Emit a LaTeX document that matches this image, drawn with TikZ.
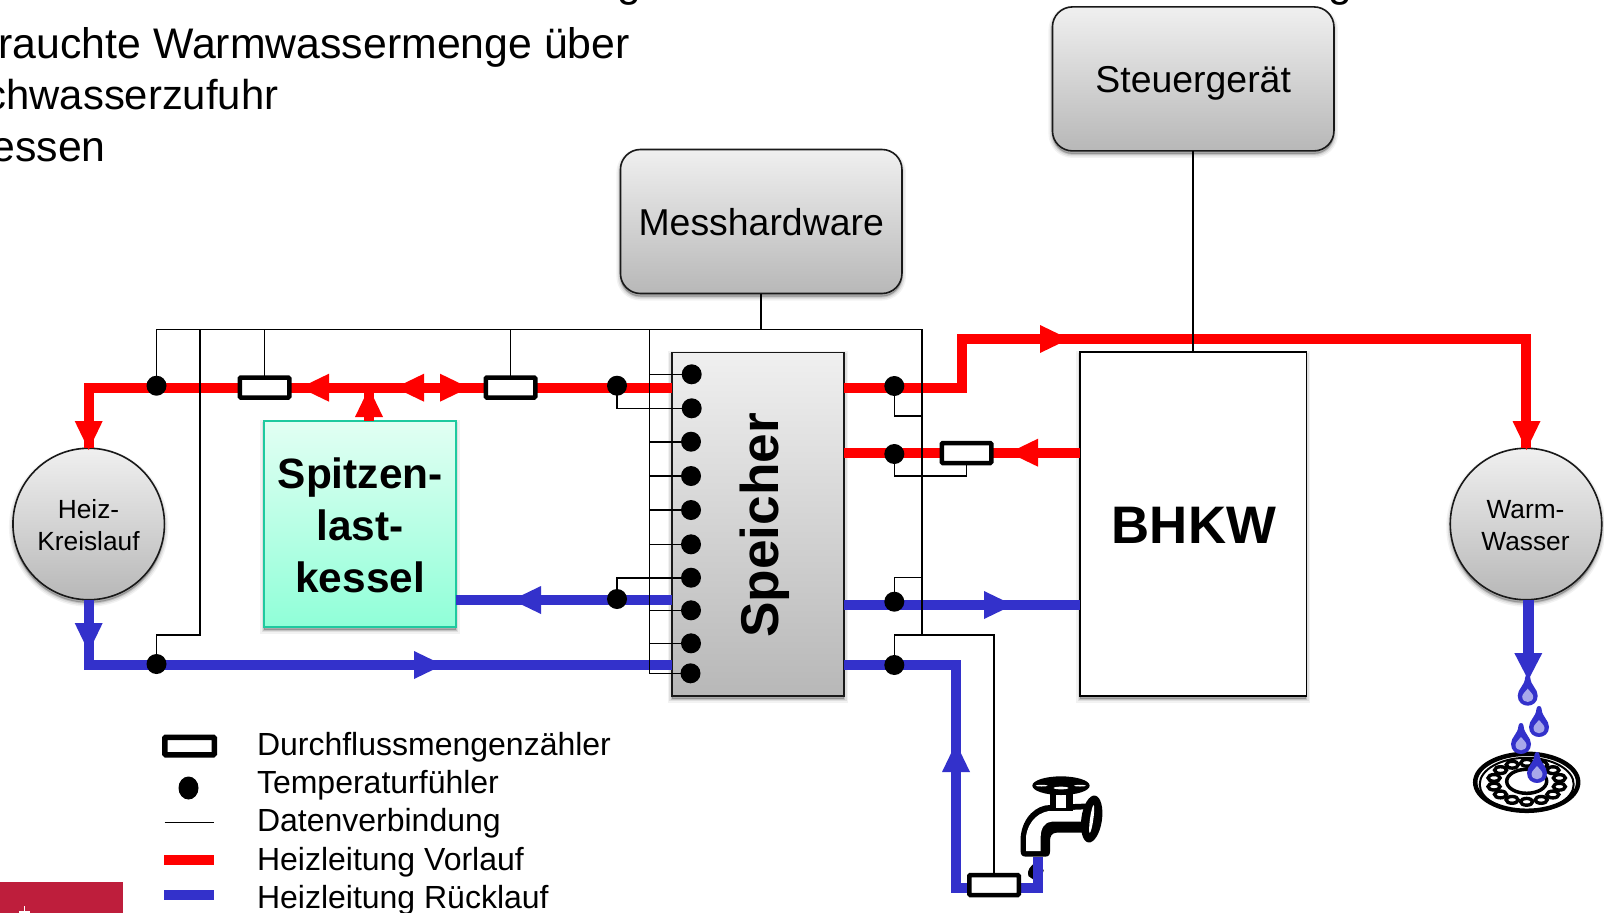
\documentclass[tikz,border=0pt]{standalone}
\usepackage{fontspec}
\usetikzlibrary{shapes.geometric}
\setmainfont{Liberation Sans}
\definecolor{pipered}{HTML}{FF0000}
\definecolor{pipeblue}{HTML}{3331CB}
\definecolor{droplight}{HTML}{A8A8EA}
\definecolor{logored}{HTML}{BE1E3C}
\definecolor{kesselline}{HTML}{1FC99F}
\definecolor{kesseltop}{HTML}{E2FFF3}
\definecolor{kesselbot}{HTML}{90FFD8}
\newcommand{\flowhead}[4]{\fill[#1,shift={(#2,#3)},rotate=#4] (10,0) -- (-19,14) -- (-19,-14) -- cycle;}
\newcommand{\wdrop}[2]{%
  \fill[pipeblue,shift={(#1,#2)}] (-2.6,-18) .. controls (-2.6,-22) and (2.6,-22) .. (2.6,-18) .. controls (3,-10) and (10,-7) .. (10,0) .. controls (10,13.3) and (-10,13.3) .. (-10,0) .. controls (-10,-7) and (-3,-10) .. (-2.6,-18) -- cycle;
  \fill[droplight,shift={(#1,#2)}] (0,-7) .. controls (2,-4) and (5.5,-2) .. (5.5,1) .. controls (5.5,8) and (-5.5,8) .. (-5.5,1) .. controls (-5.5,-2) and (-2,-4) .. (0,-7) -- cycle;}
\tikzset{
  softshadow/.style={
    preaction={draw=black,fill=black,draw opacity=.05,fill opacity=.05,line width=8pt,transform canvas={yshift=-3pt}},
    preaction={draw=black,fill=black,draw opacity=.08,fill opacity=.08,line width=5pt,transform canvas={yshift=-3pt}},
    preaction={draw=black,fill=black,draw opacity=.12,fill opacity=.12,line width=2pt,transform canvas={yshift=-3pt}}},
  greybox/.style={draw=black!90,line width=1.6pt,top color=black!6,bottom color=black!28,softshadow,inner sep=0pt,outer sep=0pt},
  ctrlbox/.style={greybox,rounded corners=20pt,minimum width=281.5pt,minimum height=144pt,text height=35.6pt,text depth=8pt,font=\fontsize{37.4}{44}\selectfont},
  loadcircle/.style={greybox,circle,minimum size=151.5pt,align=center},
  loadtext/.style={align=center,inner sep=0pt,font=\fontsize{26.3}{32}\selectfont},
  redpipe/.style={pipered,line width=10pt},
  bluepipe/.style={pipeblue,line width=10pt},
  dataline/.style={black,line width=1.6pt},
  sensor/.style={circle,fill=black,minimum size=20pt,inner sep=0pt,outer sep=0pt},
  meter/.style={draw=black,fill=white,line width=4.5pt,rounded corners=1pt,minimum width=49.5pt,minimum height=20pt,inner sep=0pt,outer sep=0pt},
  legendtext/.style={anchor=base west,inner sep=0pt,font=\fontsize{32}{38}\selectfont},
  headtext/.style={anchor=base east,inner sep=0pt,font=\fontsize{42.8}{51}\selectfont},
  bigbold/.style={font=\bfseries\fontsize{42.4}{51.7}\selectfont,align=center,inner sep=0pt}
}
\begin{document}
\begin{tikzpicture}[x=1pt,y=-1pt]
\clip (0,0) rectangle (1604,913);
\fill[white] (0,0) rectangle (1604,913);

% clipped text of the slide behind
\node[headtext] (gA) at (641,-4) {g};
\node[headtext] (gB) at (1352,-4) {g};
\node[headtext] (h1) at (630,58.5) {rauchte Warmwassermenge über};
\node[headtext,font=\fontsize{41.8}{51}\selectfont] (h2) at (278.5,109.5) {chwasserzufuhr};
\node[headtext] (h3) at (106,161) {essen};

% logo block
\fill[logored] (0,882) rectangle (123,913);
\draw[white,line width=1.6pt] (24.5,906) -- (24.5,913);
\draw[white,line width=1.6pt] (19,912) -- (30,912);

% boxes
\node[ctrlbox] (steuer) at (1193.2,78.9) {Steuergerät};
\node[ctrlbox] (mess) at (761.2,221.5) {Messhardware};
\node[greybox,minimum width=172.3pt,minimum height=343.4pt] (speicher) at (757.9,524) {};
\node[font=\bfseries\fontsize{53.2}{60}\selectfont,rotate=90,anchor=base,inner sep=0pt] (speicherlabel) at (778,525.5) {Speicher};
\node[draw=black,fill=white,line width=1.8pt,minimum width=226.4pt,minimum height=343.4pt,inner sep=0pt,outer sep=0pt,softshadow] (bhkw) at (1193.2,524) {};
\node[font=\bfseries\fontsize{52.8}{60}\selectfont,inner sep=0pt] (bhkwlabel) at (1193.9,525) {BHKW};
\node[draw=kesselline,line width=1.6pt,top color=kesseltop,bottom color=kesselbot,minimum width=191.7pt,minimum height=205.7pt,inner sep=0pt,outer sep=0pt,softshadow] (kessel) at (359.9,523.9) {};
\node[bigbold] (kessellabel) at (360.2,525.5) {Spitzen-\\last-\\kessel};
\node[loadcircle] (heiz) at (88.7,524) {};
\node[loadtext] (heiztext) at (88.5,525.5) {Heiz-\\Kreislauf};
\node[loadcircle] (warm) at (1526,524) {};
\node[loadtext] (warmtext) at (1525.5,525.5) {Warm-\\Wasser};

% tap
\begin{scope}[shift={(900,720)},scale=1/3]
  \fill[black] (385,468) .. controls (380,450) and (392,440) .. (400,432) -- (405,482) -- cycle;
  \fill[black] (420,452) circle [radius=11];
  \fill[black] (362,395) -- (362,350) .. controls (368,290) and (410,255) .. (450,255) -- (575,250) -- (575,338) -- (470,338) .. controls (455,338) and (450,350) .. (450,362) -- (450,395) .. controls (450,405) and (445,410) .. (435,410) -- (378,410) .. controls (368,410) and (362,405) .. (362,395) -- cycle;
  \fill[white] (378,393) -- (378,350) .. controls (385,300) and (420,272) .. (460,272) -- (555,268) -- (555,305) -- (455,305) .. controls (435,305) and (422,325) .. (422,350) -- (422,393) -- cycle;
  \fill[black] (450,215) rectangle (518,272);
  \fill[white] (468,225) rectangle (498,263);
  \fill[black] (483,197) ellipse [x radius=86,y radius=28];
  \fill[white] (425,197) ellipse [x radius=18,y radius=2.5];
  \fill[white] (540,197) ellipse [x radius=18,y radius=2.5];
  \fill[white] (483,204) ellipse [x radius=22,y radius=4];
  \fill[black,rotate around={-8:(575,297)}] (575,297) ellipse [x radius=31,y radius=71];
  \fill[white,rotate around={-8:(575,297)}] (575,297) ellipse [x radius=5,y radius=42];
\end{scope}

% pipe way points
\coordinate (rA) at (speicher.west |- 0,387.7);
\coordinate (rB) at (heiz.north |- 0,387.7);
\coordinate (rC) at (speicher.east |- 0,387.7);
\coordinate (rD) at (962,387.7);
\coordinate (rE) at (962,339);
\coordinate (rF) at (warm.north |- 0,339);
\coordinate (rG) at (speicher.east |- 0,452.7);
\coordinate (rH) at (bhkw.west |- 0,452.7);
\coordinate (rI) at (369,421);
\coordinate (rJ) at (369,387.7);
\coordinate (bA) at (speicher.west |- 0,665);
\coordinate (bB) at (heiz.south |- 0,665);
\coordinate (bC) at (kessel.east |- 0,600);
\coordinate (bD) at (speicher.west |- 0,600);
\coordinate (bE) at (speicher.east |- 0,605);
\coordinate (bF) at (bhkw.west |- 0,605);
\coordinate (bG) at (speicher.east |- 0,665);
\coordinate (bH) at (956,665);
\coordinate (bI) at (956,888);
\coordinate (bJ) at (1037.7,888);
\coordinate (bK) at (1037.7,857);
\coordinate (wA) at (1528.3,600);
\coordinate (wB) at (1528.3,655);

% pipes
\draw[redpipe] (rA) -- (rB) -- (heiz.north);
\draw[redpipe] (rI) -- (rJ);
\draw[redpipe] (rC) -- (rD) -- (rE) -- (rF) -- (warm.north);
\draw[redpipe] (rH) -- (rG);
\draw[bluepipe] (heiz.south) -- (bB) -- (bA);
\draw[bluepipe] (bC) -- (bD);
\draw[bluepipe] (bE) -- (bF);
\draw[bluepipe] (bG) -- (bH) -- (bI) -- (bJ) -- (bK);
\draw[bluepipe,line width=11pt] (wA) -- (wB);

% arrowheads
\flowhead{pipered}{88.7}{440}{270}
\flowhead{pipered}{310}{387.7}{180}
\flowhead{pipered}{405}{387.7}{180}
\flowhead{pipered}{459}{387.7}{0}
\flowhead{pipered}{369}{398}{90}
\flowhead{pipered}{1059}{339}{0}
\flowhead{pipered}{1019}{452.7}{180}
\flowhead{pipered}{1526.5}{440}{270}
\flowhead{pipeblue}{88.7}{642}{270}
\flowhead{pipeblue}{433}{665}{0}
\flowhead{pipeblue}{522}{600}{180}
\flowhead{pipeblue}{1003}{605}{0}
\flowhead{pipeblue}{956}{753}{90}
\fill[pipeblue,shift={(1528.3,680)},rotate=270] (0,0) -- (-27,14) -- (-27,-14) -- cycle;

% flow meters
\node[meter] (m1) at (264.5,387.5) {};
\node[meter] (m2) at (510.5,387.5) {};
\node[meter] (m3) at (966.5,453) {};
\node[meter] (m4) at (994,885) {};

% temperature sensors
\node[sensor] (t1) at (156.5,385.7) {};
\node[sensor] (t2) at (156.5,664) {};
\node[sensor] (t3) at (617,385.7) {};
\node[sensor] (t4) at (617,599) {};
\node[sensor] (t5) at (894.3,386) {};
\node[sensor] (t6) at (894.3,454) {};
\node[sensor] (t7) at (894.3,601.7) {};
\node[sensor] (t8) at (894.3,665) {};
\node[sensor] (s1) at (691.7,374.3) {};
\node[sensor] (s2) at (691.7,408.3) {};
\node[sensor] (s3) at (691,441.7) {};
\node[sensor] (s4) at (691,476) {};
\node[sensor] (s5) at (691,510) {};
\node[sensor] (s6) at (691,544.3) {};
\node[sensor] (s7) at (691,577.7) {};
\node[sensor] (s8) at (691,610.3) {};
\node[sensor] (s9) at (691,643.3) {};
\node[sensor] (s10) at (690.5,673.3) {};

% data bus
\coordinate (dTL) at (156.5,329.5);
\coordinate (dTR) at (922,329.5);
\coordinate (dBR) at (922,635);
\coordinate (dL) at (649.3,329.5);
\coordinate (dM) at (200,329.5);
\coordinate (dMb) at (200,635);
\draw[dataline] (steuer.south) -- (bhkw.north);
\draw[dataline] (mess.south) -- (mess.south |- dTL);
\draw[dataline] (t1.center) -- (dTL) -- (dTR) -- (dBR);
\draw[dataline] (dM) -- (dMb) -- (dMb -| t2) -- (t2.center);
\draw[dataline] (m1.north) -- (m1.north |- dTL);
\draw[dataline] (m2.north) -- (m2.north |- dTL);
\draw[dataline] (dL) -- (dL |- s10) -- (s10.center);
\foreach \n in {s1,s3,s4,s5,s6,s8,s9}{\draw[dataline] (dL |- \n) -- (\n.center);}
\draw[dataline] (t3.center) -- (t3 |- s2) -- (s2.center);
\draw[dataline] (t4.center) -- (t4 |- s7) -- (s7.center);
\draw[dataline] (t5.center) -- (t5 |- 0,416) -- (922,416);
\draw[dataline] (t6.center) -- (t6 |- 0,476) -- (966.5,476) -- (m3.south);
\draw[dataline] (t7.center) -- (t7 |- 0,577.3) -- (922,577.3);
\draw[dataline] (t8.center) -- (t8 |- 0,635) -- (994,635) -- (m4.north);

% drain
\begin{scope}[shift={(1526.7,782.3)}]
  \fill[white] (0,0) ellipse [x radius=54,y radius=31];
  \draw[black,line width=4.5pt] (0,0) ellipse [x radius=51.5,y radius=28.5];
  \draw[black,line width=2pt] (0,2) ellipse [x radius=47,y radius=26.5];
  \draw[black,line width=3.5pt] (0,-1) ellipse [x radius=20,y radius=12];
  \foreach \i in {0,...,13}{
    \draw[black,line width=3.4pt,fill=white] ({33.5*cos(\i*360/14+13)},{19.5*sin(\i*360/14+13)}) ellipse [x radius=6,y radius=3.4];
  }
\end{scope}
\wdrop{1527.7}{695.7}
\wdrop{1539}{727}
\wdrop{1521}{744}
\wdrop{1537}{773}

% legend
\node[meter,line width=5.5pt,minimum width=49.5pt,minimum height=17.5pt] (lm) at (189.5,746) {};
\node[draw=none,fill=black,ellipse,minimum width=20pt,minimum height=23pt,inner sep=0pt] (ls) at (188.5,788) {};
\coordinate (la) at (164.7,822.5);
\coordinate (lb) at (214,822.5);
\draw[dataline] (la) -- (lb);
\coordinate (lc) at (164,860.3);
\coordinate (ld) at (214,860.3);
\draw[redpipe] (lc) -- (ld);
\coordinate (le) at (164,895);
\coordinate (lf) at (214,895);
\draw[bluepipe] (le) -- (lf);
\node[legendtext] (l1) at (256.8,755.5) {Durchflussmengenzähler};
\node[legendtext] (l2) at (256.8,793) {Temperaturfühler};
\node[legendtext] (l3) at (256.8,831) {Datenverbindung};
\node[legendtext] (l4) at (256.8,870) {Heizleitung Vorlauf};
\node[legendtext] (l5) at (256.8,908) {Heizleitung Rücklauf};
\end{tikzpicture}
\end{document}
